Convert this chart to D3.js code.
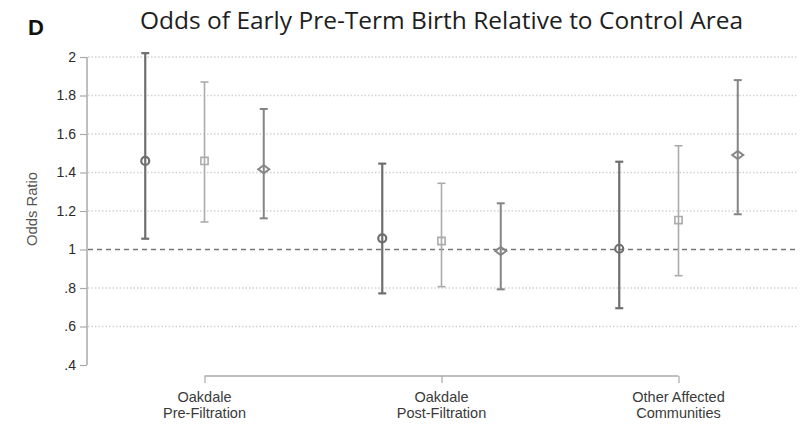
<!DOCTYPE html>
<html>
<head>
<meta charset="utf-8">
<script src="https://cdn.jsdelivr.net/npm/d3@7"></script>
<style>
  body { margin: 0; background: #fff; }
  svg { display: block; }
</style>
</head>
<body>
<svg id="chart"></svg>
<script>
// groups along the x axis
const groups = [['Oakdale', 'Pre-Filtration'], ['Oakdale', 'Post-Filtration'], ['Other Affected', 'Communities']];
// three model series per group (circle, square, diamond)
const circleOR = [1.46, 1.058, 1.004];
const circleLo = [1.056, 0.772, 0.695];
const circleHi = [2.02, 1.446, 1.456];
const squareOR = [1.46, 1.044, 1.153];
const squareLo = [1.143, 0.807, 0.864];
const squareHi = [1.87, 1.344, 1.539];
const diamondOR = [1.417, 0.992, 1.491];
const diamondLo = [1.162, 0.793, 1.183];
const diamondHi = [1.73, 1.24, 1.88];
const yTicks = [0.4, 0.6, 0.8, 1, 1.2, 1.4, 1.6, 1.8, 2];
const yTickLabels = ['.4', '.6', '.8', '1', '1.2', '1.4', '1.6', '1.8', '2'];

const W = 804, H = 425;
const svg = d3.select('#chart').attr('width', W).attr('height', H);

const x = d3.scaleLinear().domain([0.5, 3.5]).range([86, 797]);
const y = d3.scaleLinear().domain([0.4, 2]).range([365, 57]);

// gridlines (dotted), no line at .4 and the reference line at 1
svg.append('g')
  .selectAll('line')
  .data(yTicks.filter(d => d !== 0.4 && d !== 1))
  .enter().append('line')
  .attr('x1', 88).attr('x2', 797)
  .attr('y1', d => y(d)).attr('y2', d => y(d))
  .attr('stroke', '#d2d2d2').attr('stroke-width', 1.3)
  .attr('stroke-dasharray', '1.5,2');

svg.append('line')
  .attr('x1', 88).attr('x2', 797)
  .attr('y1', y(1)).attr('y2', y(1))
  .attr('stroke', '#777').attr('stroke-width', 1.5)
  .attr('stroke-dasharray', '5,4');

// y axis
const yAxis = d3.axisLeft(y)
  .tickValues(yTicks)
  .tickFormat((d, i) => yTickLabels[i])
  .tickSize(7).tickPadding(4);
const gY = svg.append('g').attr('transform', 'translate(87,0)').call(yAxis);
gY.select('.domain').attr('stroke', '#aaa').attr('stroke-width', 1.5).attr('d', 'M0,' + y(2) + 'V' + y(0.4));
gY.selectAll('.tick line').attr('stroke', '#aaa').attr('stroke-width', 1.2);
gY.selectAll('.tick text')
  .attr('fill', '#2a2a2a').style('font-family', 'Liberation Sans, Arial, sans-serif').style('font-size', '14px');

// x axis
const xAxis = d3.axisBottom(x)
  .tickValues([1, 2, 3])
  .tickFormat('')
  .tickSize(7).tickSizeOuter(0);
const gX = svg.append('g').attr('transform', 'translate(0,376)').call(xAxis);
gX.select('.domain').attr('stroke', '#aaa').attr('stroke-width', 1.5).attr('d', 'M' + x(1) + ',0H' + x(3));
gX.selectAll('.tick line').attr('stroke', '#aaa').attr('stroke-width', 1.2);

const xl = svg.append('g')
  .selectAll('text')
  .data(groups)
  .enter().append('text')
  .attr('x', (d, i) => x(i + 1))
  .attr('text-anchor', 'middle')
  .attr('fill', '#3a3a3a')
  .style('font-family', 'Liberation Sans, Arial, sans-serif')
  .style('font-size', '14.5px');
xl.append('tspan').attr('x', (d, i) => x(i + 1)).attr('y', 402).text(d => d[0]);
xl.append('tspan').attr('x', (d, i) => x(i + 1)).attr('y', 418).text(d => d[1]);

// series
const series = [
  { or: circleOR, lo: circleLo, hi: circleHi, off: -0.25, color: '#6e6e6e', w: 2.2, shape: 'circle' },
  { or: squareOR, lo: squareLo, hi: squareHi, off: 0, color: '#ababab', w: 1.6, shape: 'square' },
  { or: diamondOR, lo: diamondLo, hi: diamondHi, off: 0.25, color: '#858585', w: 2, shape: 'diamond' }
];

series.forEach(s => {
  const g = svg.append('g');
  const idx = d3.range(s.or.length);
  g.selectAll('line.ci').data(idx).enter().append('line')
    .attr('x1', i => x(i + 1 + s.off)).attr('x2', i => x(i + 1 + s.off))
    .attr('y1', i => y(s.lo[i])).attr('y2', i => y(s.hi[i]))
    .attr('stroke', s.color).attr('stroke-width', s.w);
  ['lo', 'hi'].forEach(k => {
    g.selectAll('line.cap' + k).data(idx).enter().append('line')
      .attr('x1', i => x(i + 1 + s.off) - 4).attr('x2', i => x(i + 1 + s.off) + 4)
      .attr('y1', i => y(s[k][i])).attr('y2', i => y(s[k][i]))
      .attr('stroke', s.color).attr('stroke-width', s.w);
  });
  let sym;
  if (s.shape === 'circle') sym = d3.symbol(d3.symbolCircle, 50);
  else if (s.shape === 'square') sym = d3.symbol(d3.symbolSquare, 52);
  g.selectAll('path.m').data(idx).enter().append('path')
    .attr('transform', i => 'translate(' + x(i + 1 + s.off) + ',' + y(s.or[i]) + ')')
    .attr('d', s.shape === 'diamond' ? 'M-5.5,0L0,-4L5.5,0L0,4Z' : sym())
    .attr('fill', 'none').attr('stroke', s.color).attr('stroke-width', s.w);
});

// y axis title
svg.append('text')
  .attr('transform', 'translate(37,209) rotate(-90)')
  .attr('text-anchor', 'middle')
  .attr('fill', '#555')
  .attr('textLength', 74).attr('lengthAdjust', 'spacingAndGlyphs')
  .style('font-family', 'Liberation Sans, Arial, sans-serif')
  .style('font-size', '14px')
  .text('Odds Ratio');

// title and panel letter
svg.append('text')
  .attr('x', 140).attr('y', 29)
  .attr('textLength', 603).attr('lengthAdjust', 'spacingAndGlyphs')
  .attr('fill', '#1e1e1e')
  .style('font-family', 'Open Sans, Noto Sans, sans-serif')
  .style('font-size', '23px')
  .text('Odds of Early Pre-Term Birth Relative to Control Area');

svg.append('text')
  .attr('x', 28).attr('y', 35)
  .attr('fill', '#111')
  .style('font-family', 'Liberation Sans, Arial, sans-serif')
  .style('font-weight', 'bold')
  .style('font-size', '22px')
  .text('D');
</script>
</body>
</html>
